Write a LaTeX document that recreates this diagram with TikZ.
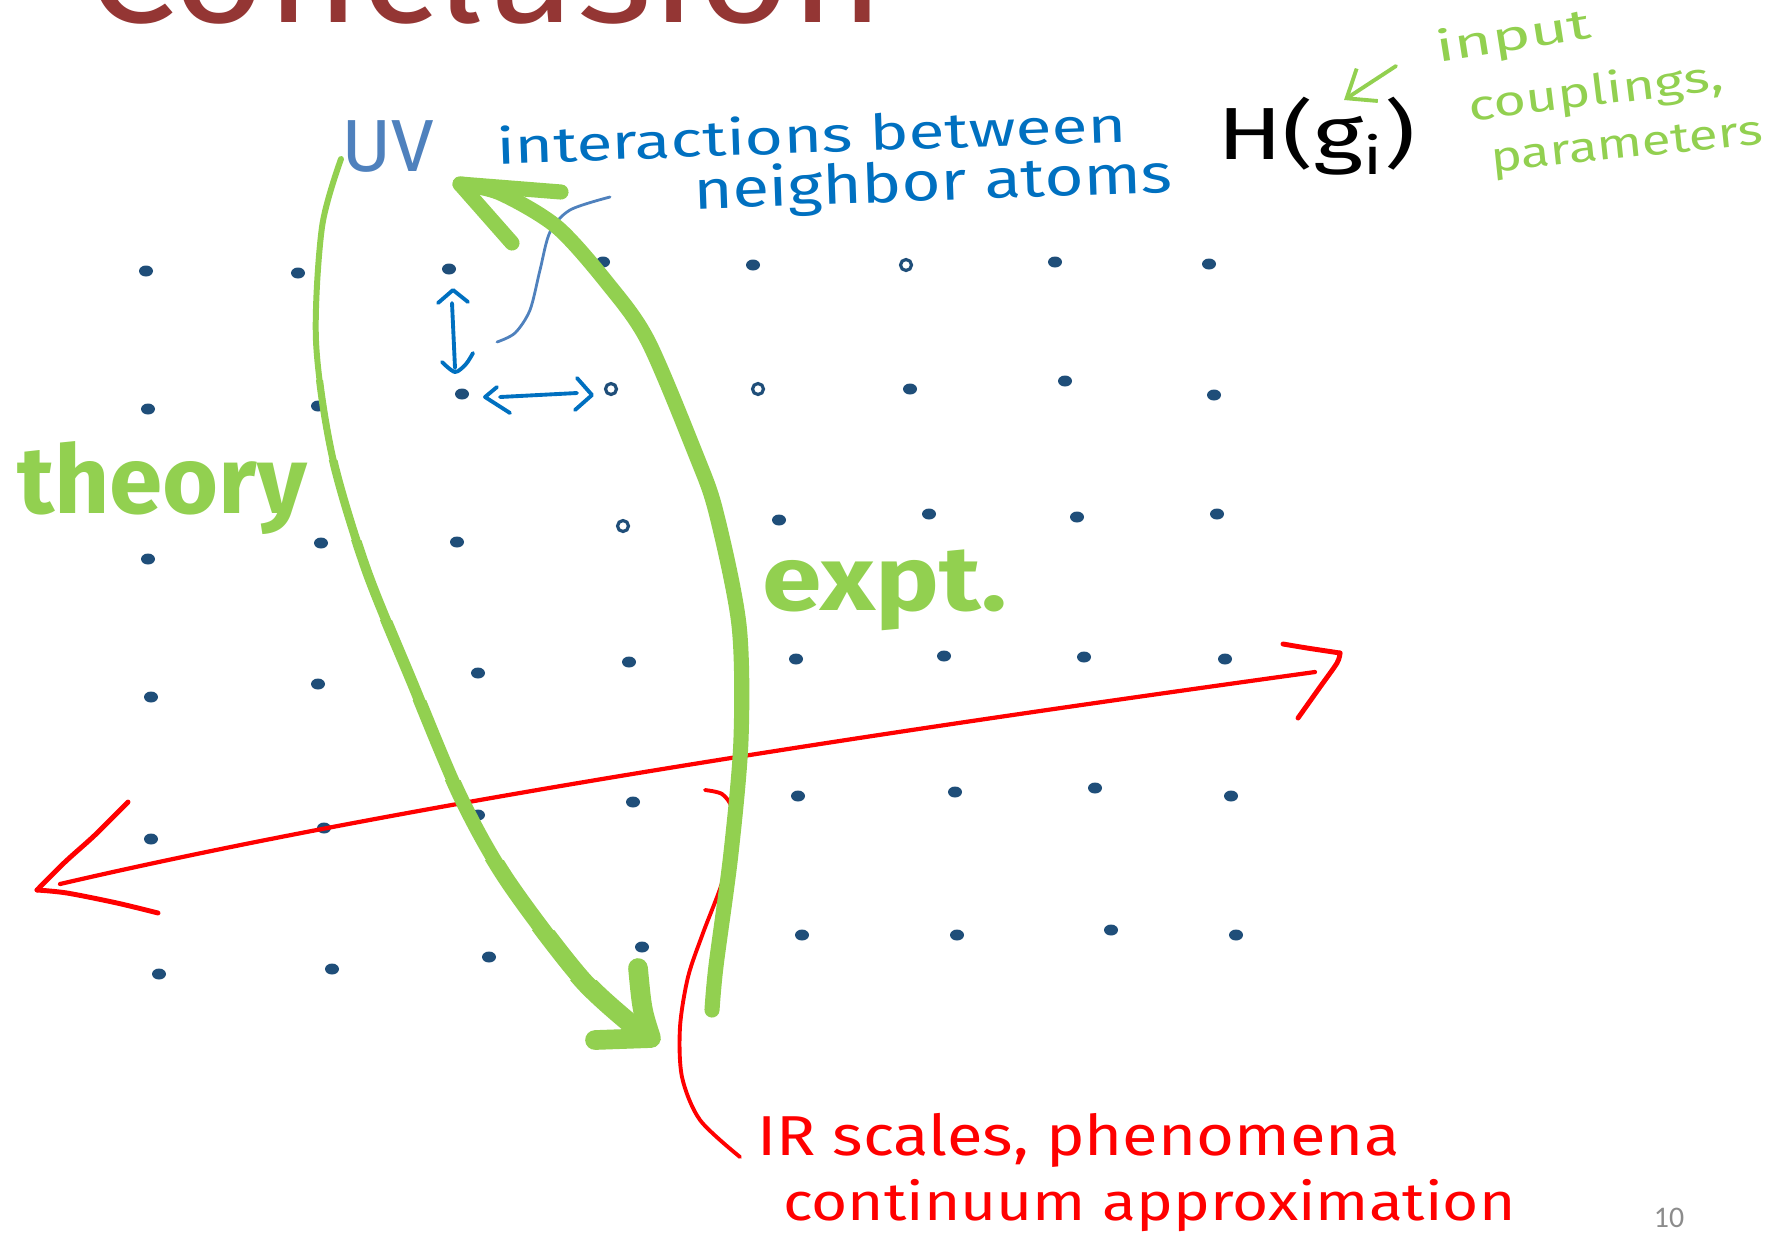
\documentclass[tikz,border=0pt]{standalone}
\usepackage{fontspec}
\usepackage{graphicx}
\setmainfont{Fira Sans}
\newfontfamily\pagefont{Carlito}
\usetikzlibrary{arrows.meta}
\definecolor{navy}{HTML}{1F4E79}
\definecolor{grn}{HTML}{92D050}
\definecolor{blu}{HTML}{0070C0}
\definecolor{uvblue}{HTML}{4F81BD}
\definecolor{dred}{HTML}{943634}
\definecolor{rd}{HTML}{FF0000}
\definecolor{pg}{HTML}{8C8C8C}
\newcommand{\fitw}[2]{\resizebox{#1}{\height}{#2}}
\tikzset{
  txt/.style={inner sep=0pt, outer sep=0pt, anchor=base west},
  gline/.style={draw=grn, line cap=round, line join=round},
  rline/.style={draw=rd, line width=1.2pt, line cap=round, line join=round},
  bline/.style={draw=blu, line width=1.1pt, line cap=round, line join=round},
  sline/.style={draw=uvblue, line width=0.8pt, line cap=round},
  atom/.style={fill=navy, draw=none},
  ring/.style={draw=navy, line width=0.9pt, fill=none},
}
\begin{document}
\begin{tikzpicture}[x=0.01cm, y=-0.01cm]
\useasboundingbox (0,0) rectangle (1783,1245);
\clip (0,0) rectangle (1783,1245);

% title (cut off at top)
\node[txt, text=dred] (title) at (86,22) {\fitw{7.98cm}{\fontsize{42}{42}\selectfont Conclusion}};

% lattice of atoms
\foreach \p in {(146,271),(298,273),(449,269),(603,262),(753,265),(1055,262),(1209,264),
                (148,409),(318,406),(462,394),(910,389),(1065,381),(1214,395),
                (148,559),(321,543),(457,542),(779,520),(929,514),(1077,517),(1217,514),
                (151,697),(318,684),(478,673),(629,662),(796,659),(944,656),(1084,657),(1225,659),
                (151,839),(324,828),(478,815),(633,802),(798,796),(955,792),(1095,788),(1231,796),
                (159,974),(332,969),(489,957),(642,947),(802,935),(957,935),(1111,930),(1236,935)}
  \fill[atom] \p ellipse[x radius=7, y radius=5.5];
\foreach \p in {(611,389),(758,389),(906,265),(623,526)}
  \draw[ring] \p circle[radius=5.5];

% blue neighbour arrows
\coordinate (vt) at (453,290);
\coordinate (vb) at (455,372);
\draw[bline] (452,303) -- (455,368);
\draw[bline] (438,303) -- (vt) -- (468,302);
\draw[bline] plot[smooth] coordinates {(442,362) (455,372) (466,364) (473,353)};
\coordinate (hl) at (485,397);
\coordinate (hr) at (592,395);
\draw[bline] (500,397) -- (577,393);
\draw[bline] (497,387) -- (hl) -- (510,413);
\draw[bline] (577,378) -- (hr) -- (575,410);
\draw[sline] plot[smooth] coordinates {(497,342) (515,333) (530,310) (540,270) (550,232) (570,210) (610,197)};

% red double arrow
\coordinate (rl) at (37,890);
\coordinate (rr) at (1340,653);
\draw[rline] (60,884) .. controls (400,805) and (860,735) .. (1315,672);
\draw[rline, line width=1.4pt] plot[smooth] coordinates {(128,802) (95,835) (65,862) (37,890)};
\draw[rline, line width=1.4pt] plot[smooth] coordinates {(37,890) (67,893) (117,903) (158,913)};
\draw[rline, line width=1.4pt] plot[smooth] coordinates {(1283,644) (1307,648) (1340,653)};
\draw[rline, line width=1.4pt] plot[smooth] coordinates {(1340,653) (1337,663) (1320,687) (1298,718)};

% red bracket to IR label
\draw[rline, line width=1.1pt] plot[smooth] coordinates {(705,790) (722,794) (732,808) (734,835) (722,883) (703,933) (688,977) (680,1027) (682,1077) (700,1120) (740,1157)};

% theory arrow (UV -> IR), widening downwards
\foreach \yy/\ww in {150/1.7, 380/2.0, 460/2.4, 540/2.8, 620/3.2, 700/3.6, 780/4.1, 860/4.6, 930/5.1, 980/5.6} {
  \begin{scope}
    \clip (0,\yy) rectangle (1783,1245);
    \draw[gline, line width=\ww pt] plot[smooth] coordinates {(341,159) (322,227) (316,341) (332,455) (366,569) (412,682) (460,796) (507,880) (583,980) (647,1037)};
  \end{scope}
}
\draw[gline, line width=5.6pt] (638,968) .. controls (642,1010) .. (651,1038) -- (595,1040);

% expt arrow (IR -> UV)
\draw[gline, line width=4.3pt] plot[smooth] coordinates {(712,1010) (716,966) (731,853) (741,739) (739,625) (716,512) (696,455) (648,341) (608,284) (557,227) (500,193) (460,184)};
\draw[gline, line width=4.3pt] (561,192) -- (460,184) -- (512,243);

% small green arrow
\draw[grn, line width=1.1pt, line cap=round, -{Straight Barb[length=7pt,width=11pt]}] (1396,66) -- (1344,100);

% texts
\node[txt, text=uvblue] (uv) at (341,171) {\fitw{0.93cm}{\fontsize{21}{21}\selectfont UV}};
\node[txt, text=blu, rotate=2] (inter) at (497,164) {\fitw{6.3cm}{\fontsize{14}{15}\selectfont interactions between}};
\node[txt, text=blu, rotate=2] (neigh) at (694,209) {\fitw{4.79cm}{\fontsize{15.5}{16}\selectfont neighbor atoms}};
\node[txt, text=black] (ham) at (1217,159) {\fitw{1.99cm}{\fontsize{21}{21}\selectfont H(g\textsubscript{i})}};
\node[txt, text=grn, rotate=9] (inp) at (1438,62) {\fitw{1.57cm}{\fontsize{12}{13}\selectfont input}};
\node[txt, text=grn, rotate=7] (coup) at (1470,121) {\fitw{2.56cm}{\fontsize{12}{13}\selectfont couplings,}};
\node[txt, text=grn, rotate=6] (par) at (1492,172) {\fitw{2.73cm}{\fontsize{12}{13}\selectfont parameters}};
\node[txt, text=grn] (theory) at (17,513) {\fitw{2.9cm}{\fontsize{27}{27}\selectfont\bfseries theory}};
\node[txt, text=grn] (expt) at (762,610) {\fitw{2.45cm}{\fontsize{26}{26}\selectfont\bfseries expt.}};
\node[txt, text=rd] (ir) at (757,1155) {\fitw{6.42cm}{\fontsize{16}{16}\selectfont IR scales, phenomena}};
\node[txt, text=rd] (cont) at (783,1220) {\fitw{7.32cm}{\fontsize{15}{15}\selectfont continuum approximation}};
\node[inner sep=0pt, text=pg] (pgno) at (1669,1218) {\pagefont\fontsize{8.5}{9}\selectfont 10};
\end{tikzpicture}
\end{document}
